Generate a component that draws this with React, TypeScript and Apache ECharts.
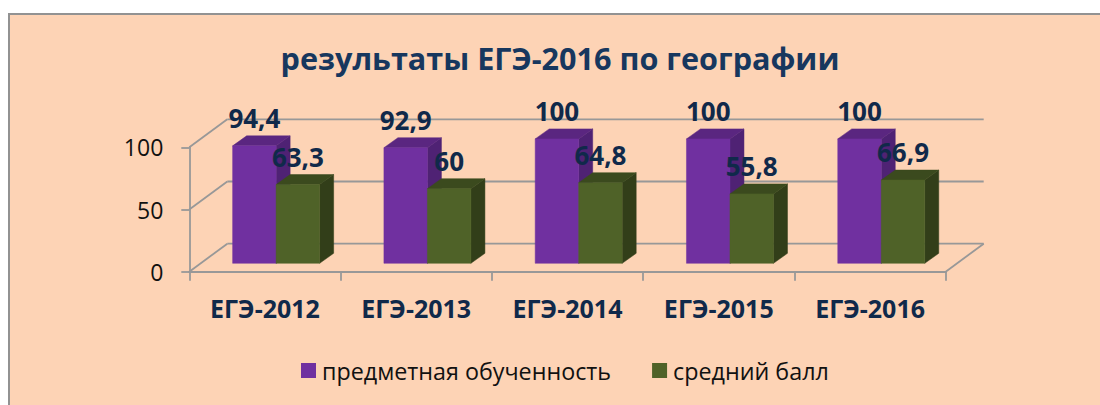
import React, { useEffect, useRef } from "react";
import * as echarts from "echarts";

const categories = ["ЕГЭ-2012", "ЕГЭ-2013", "ЕГЭ-2014", "ЕГЭ-2015", "ЕГЭ-2016"];
const mastery = [94.4, 92.9, 100, 100, 100];
const averageScore = [63.3, 60, 64.8, 55.8, 66.9];
const yTicks = [0, 50, 100];

const FONT = "'Open Sans', 'Noto Sans', sans-serif";
const AXIS_COLOR = "#989898";
const LABEL_COLOR = "#10294A";

const WALL = { dx: 38, dy: -28 };
const FLOOR = { dx: 11.2, dy: -8.4 };
const DEPTH = { dx: 14, dy: -10 };
const BAR_WIDTH = 43.5;

const fmt = (v: number) => String(v).replace(".", ",");

function bar3d(side: 0 | 1, front: string, sideColor: string, topColor: string) {
  return (params: any, api: any) => {
    const i = api.value(0);
    const v = api.value(1);
    const top = api.coord([i, v]);
    const base = api.coord([i, 0]);
    const x0 = top[0] + FLOOR.dx + (side === 0 ? -BAR_WIDTH : 0);
    const x1 = x0 + BAR_WIDTH;
    const yT = top[1] + FLOOR.dy;
    const yB = base[1] + FLOOR.dy;
    const { dx, dy } = DEPTH;
    const poly = (points: number[][], fill: string) => ({
      type: "polygon",
      shape: { points },
      style: { fill, stroke: fill, lineWidth: 0.5 },
    });
    return {
      type: "group",
      children: [
        poly([[x1, yT], [x1 + dx, yT + dy], [x1 + dx, yB + dy], [x1, yB]], sideColor),
        poly([[x0, yT], [x0 + dx, yT + dy], [x1 + dx, yT + dy], [x1, yT]], topColor),
        poly([[x0, yT], [x1, yT], [x1, yB], [x0, yB]], front),
        {
          type: "text",
          z2: 100,
          style: {
            x: (x0 + x1) / 2,
            y: yT - 28,
            text: fmt(v),
            fill: LABEL_COLOR,
            font: `bold 26px ${FONT}`,
            align: "center",
            verticalAlign: "middle",
          },
        },
      ],
    };
  };
}

function wall(params: any, api: any) {
  const v = api.value(1);
  const p = api.coord([0, v]);
  const x0 = params.coordSys.x;
  const x1 = x0 + params.coordSys.width;
  const lineStyle = { stroke: AXIS_COLOR, lineWidth: 1.8, fill: "none" };
  const backY = p[1] + WALL.dy;
  const children: any[] = [
    { type: "line", shape: { x1: x0, y1: p[1], x2: x0 + WALL.dx, y2: backY }, style: lineStyle },
    { type: "line", shape: { x1: x0 + WALL.dx, y1: backY, x2: x1 + WALL.dx, y2: backY }, style: lineStyle },
  ];
  if (v === 0) {
    children.push({ type: "line", shape: { x1, y1: p[1], x2: x1 + WALL.dx, y2: backY }, style: lineStyle });
  }
  return { type: "group", children };
}

export default function App() {
  const ref = useRef<HTMLDivElement>(null);
  useEffect(() => {
    document.body.style.margin = "0";
    document.body.style.background = "#fff";
    const chart = echarts.init(ref.current!, undefined, { renderer: "svg" });
    chart.setOption({
      animation: false,
      graphic: [
        {
          type: "rect",
          z: -10,
          silent: true,
          shape: { x: 9, y: 14, width: 1100, height: 400 },
          style: { fill: "#FDD3B5", stroke: "#929292", lineWidth: 2 },
        },
      ],
      title: {
        text: "результаты ЕГЭ-2016 по географии",
        left: 560,
        top: 37,
        padding: 0,
        textAlign: "center",
        textStyle: { fontFamily: FONT, fontWeight: "bold", fontSize: 30.6, color: "#17375E", lineHeight: 42 },
      },
      legend: {
        data: ["предметная обученность", "средний балл"],
        left: 301,
        top: 359,
        padding: 0,
        icon: "rect",
        itemWidth: 15,
        itemHeight: 15,
        itemGap: 41,
        textStyle: { fontFamily: FONT, fontSize: 23.3, color: "#111", padding: [-6, 0, 0, 1] },
      },
      grid: { left: 189.3, top: 147.3, width: 756.4, height: 124.4 },
      xAxis: {
        type: "category",
        data: categories,
        boundaryGap: true,
        axisLine: { lineStyle: { color: AXIS_COLOR, width: 1.8 } },
        axisTick: { show: true, length: 9, lineStyle: { color: AXIS_COLOR, width: 1.8 } },
        axisLabel: { interval: 0, margin: 24, fontFamily: FONT, fontWeight: "bold", fontSize: 25, color: LABEL_COLOR },
        splitLine: { show: false },
      },
      yAxis: {
        type: "value",
        min: 0,
        max: 100,
        interval: 50,
        axisLine: { show: true, lineStyle: { color: AXIS_COLOR, width: 1.8 } },
        axisTick: { show: true, length: 8, lineStyle: { color: AXIS_COLOR, width: 1.8 } },
        axisLabel: { margin: 26, fontFamily: FONT, fontSize: 23, color: "#111", verticalAlign: "middle", padding: [3, 0, 0, 0] },
        splitLine: { show: false },
      },
      series: [
        {
          type: "custom",
          name: "стены",
          clip: false,
          silent: true,
          z: 1,
          renderItem: wall,
          data: yTicks.map((v) => [0, v]),
          encode: { x: 0, y: 1 },
        },
        {
          type: "custom",
          name: "предметная обученность",
          clip: false,
          z: 3,
          itemStyle: { color: "#7030A0" },
          renderItem: bar3d(0, "#7030A0", "#4F2274", "#5A2680"),
          data: mastery.map((v, i) => [i, v]),
          encode: { x: 0, y: 1 },
        },
        {
          type: "custom",
          name: "средний балл",
          clip: false,
          z: 4,
          itemStyle: { color: "#4F6228" },
          renderItem: bar3d(1, "#4F6228", "#323E19", "#3B4A1E"),
          data: averageScore.map((v, i) => [i, v]),
          encode: { x: 0, y: 1 },
        },
      ],
    });
    return () => chart.dispose();
  }, []);
  return <div ref={ref} style={{ width: 1100, height: 405 }} />;
}
